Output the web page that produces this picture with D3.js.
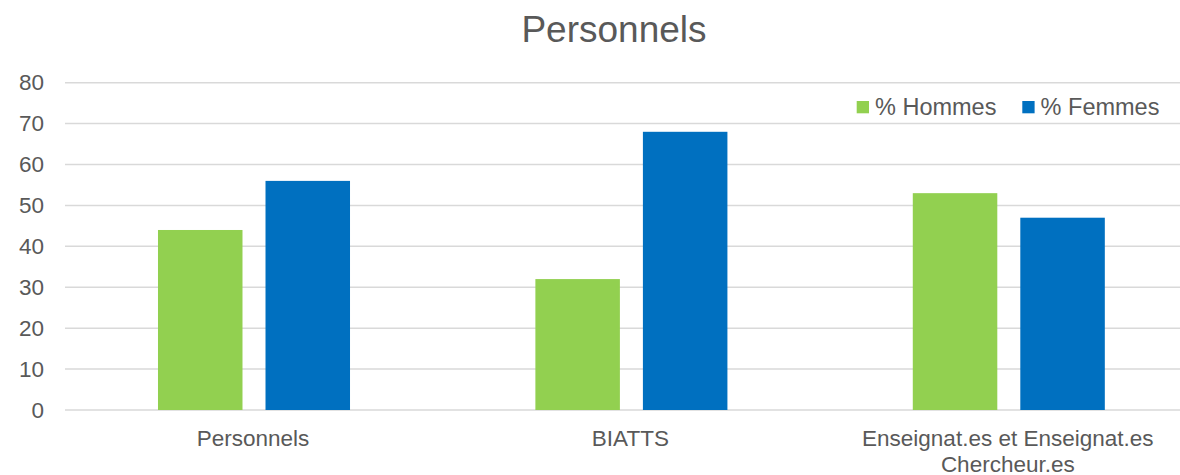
<!DOCTYPE html>
<html>
<head>
<meta charset="utf-8">
<script src="https://cdnjs.cloudflare.com/ajax/libs/d3/7.8.5/d3.min.js"></script>
<style>
  body { margin: 0; background: #fff; }
  text { font-family: "Liberation Sans", Arial, sans-serif; fill: #595959; }
</style>
</head>
<body>
<script>

var width = 1180, height = 475;

// data
var categories = ["Personnels", "BIATTS", "Enseignat.es et Enseignat.es Chercheur.es"];
var seriesNames = ["% Hommes", "% Femmes"];
var hommes = [44, 32, 53];
var femmes = [56, 68, 47];
var yTicks = [0, 10, 20, 30, 40, 50, 60, 70, 80];
var colors = ["#92d050", "#0070c0"];

var rows = categories.map(function(c, i){
    return { cat: c, values: [hommes[i], femmes[i]] };
});

var svg = d3.select("body").append("svg")
    .attr("width", width)
    .attr("height", height)
    .style("display", "block");

var x0 = d3.scaleBand()
    .domain(categories)
    .range([65.3, 1197.5])
    .padding(0);

var x1 = d3.scaleBand()
    .domain(seriesNames)
    .range([0, x0.bandwidth()])
    .paddingInner(0.214)
    .paddingOuter(0.862);

var y = d3.scaleLinear()
    .domain([0, 80])
    .range([410, 82.7]);

// gridlines
svg.append("g")
    .selectAll("line")
    .data(yTicks)
    .enter().append("line")
    .attr("x1", 65)
    .attr("x2", width)
    .attr("y1", function(d){ return y(d); })
    .attr("y2", function(d){ return y(d); })
    .style("stroke", "#d9d9d9")
    .style("stroke-width", 1.5);

// y axis labels
var yAxis = d3.axisLeft(y).tickValues(yTicks).tickSize(0).tickPadding(0);
var gy = svg.append("g")
    .attr("transform", "translate(44,0)")
    .call(yAxis);
gy.select(".domain").remove();
gy.selectAll("text")
    .style("font-size", "22.5px")
    .style("fill", "#595959")
    .style("font-family", "Liberation Sans, Arial, sans-serif");

// bars
var groups = svg.append("g")
    .selectAll("g")
    .data(rows)
    .enter().append("g")
    .attr("transform", function(d){ return "translate(" + x0(d.cat) + ",0)"; });

groups.selectAll("rect")
    .data(function(d){ return d.values.map(function(v, i){ return { s: seriesNames[i], v: v, i: i }; }); })
    .enter().append("rect")
    .attr("x", function(d){ return x1(d.s); })
    .attr("width", x1.bandwidth())
    .attr("y", function(d){ return y(d.v); })
    .attr("height", function(d){ return y(0) - y(d.v); })
    .style("fill", function(d){ return colors[d.i]; });

// category labels (wrapped if too long)
var labels = svg.append("g")
    .selectAll("text")
    .data(categories)
    .enter().append("text")
    .attr("x", function(d){ return x0(d) + x0.bandwidth() / 2 - 1; })
    .attr("y", 445.5)
    .attr("text-anchor", "middle")
    .style("font-size", "22.5px")
    .text(function(d){ return d; });

labels.each(function(d){
    var t = d3.select(this);
    if (this.getComputedTextLength() <= x0.bandwidth() - 30) return;
    var words = d.split(/\s+/), line = [], lines = [];
    t.text("");
    var probe = t.append("tspan");
    words.forEach(function(w){
        line.push(w);
        probe.text(line.join(" "));
        if (probe.node().getComputedTextLength() > x0.bandwidth() - 30 && line.length > 1) {
            line.pop();
            lines.push(line.join(" "));
            line = [w];
        }
    });
    lines.push(line.join(" "));
    probe.remove();
    var xx = t.attr("x");
    lines.forEach(function(l, k){
        t.append("tspan").attr("x", xx).attr("dy", k == 0 ? 0 : 26.5).text(l);
    });
});

// title
svg.append("text")
    .attr("x", 614)
    .attr("y", 42.3)
    .attr("text-anchor", "middle")
    .style("font-size", "37px")
    .text("Personnels");

// legend
var legendX = [856.7, 1022.3];
var legend = svg.append("g")
    .selectAll("g")
    .data(seriesNames)
    .enter().append("g")
    .attr("transform", function(d, i){ return "translate(" + legendX[i] + ",101)"; });

legend.append("rect")
    .attr("width", 12.3)
    .attr("height", 12.3)
    .style("fill", function(d, i){ return colors[i]; });

legend.append("text")
    .attr("x", 18.3)
    .attr("y", 14.3)
    .style("font-size", "23.5px")
    .text(function(d){ return d; });

</script>
</body>
</html>
